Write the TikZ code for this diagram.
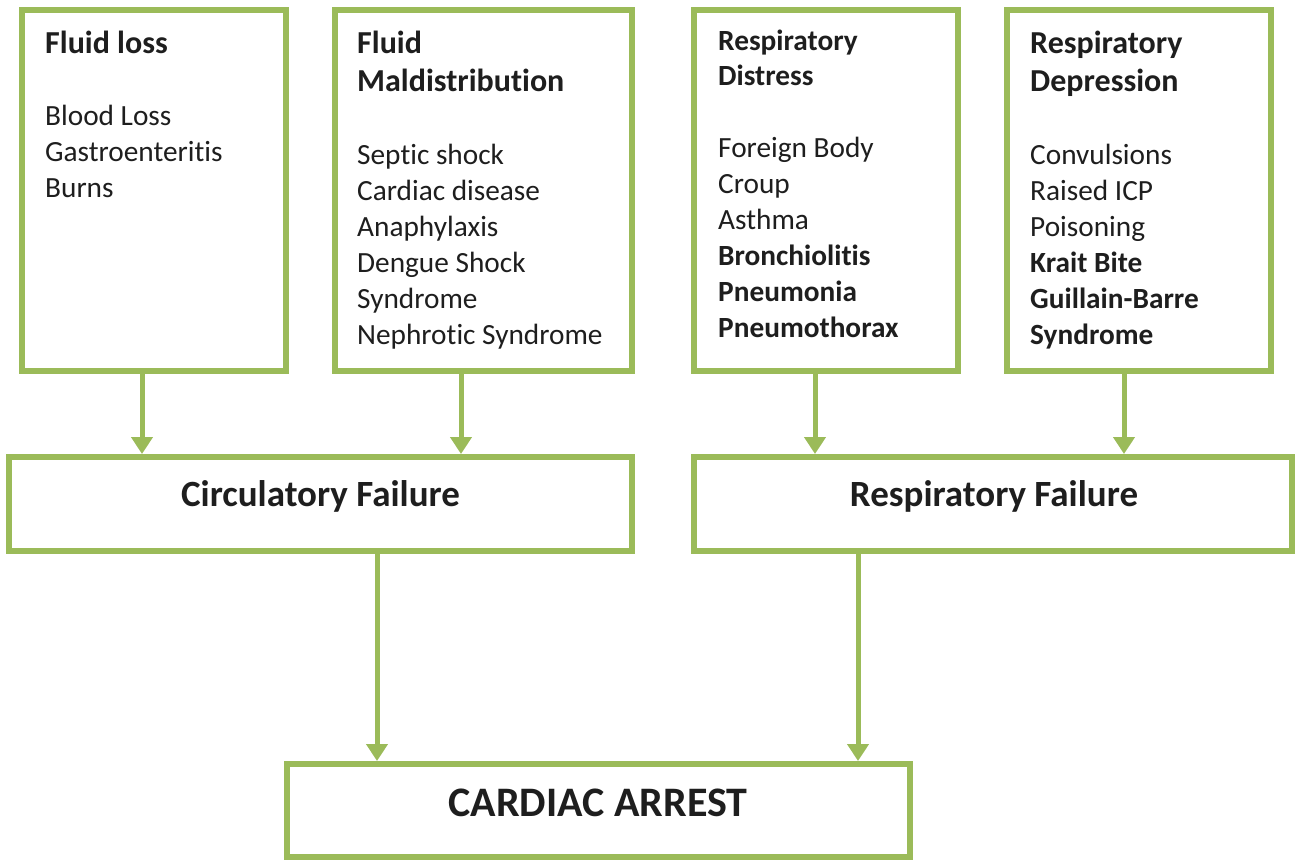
\documentclass[tikz,border=0pt]{standalone}
\usepackage{fontspec}
\setmainfont{Carlito}[RawFeature={-liga;-clig}]
\usetikzlibrary{arrows.meta}
\definecolor{leaf}{HTML}{9BBB59}
\definecolor{ink}{HTML}{1E1E1E}
\begin{document}
\begin{tikzpicture}[x=1pt,y=-1pt,
  box/.style={draw=leaf,line width=6pt,fill=white,inner sep=0pt},
  arr/.style={draw=leaf,line width=5pt,-{Triangle[width=21pt,length=17pt]}},
  item/.style={anchor=base west,inner sep=0pt,text=ink,font=\fontsize{29.3}{36}\selectfont},
  bitem/.style={item,font=\fontsize{29.3}{36}\selectfont\bfseries},
  head/.style={item,font=\fontsize{32}{38}\selectfont\bfseries},
  big/.style={anchor=base,inner sep=0pt,text=ink,font=\fontsize{37}{44}\selectfont\bfseries}]
\useasboundingbox (0,0) rectangle (1295,860);

% cause boxes
\node[box,minimum width=264pt,minimum height=361pt] (fl) at (154,190.5) {};
\node[box,minimum width=297pt,minimum height=361pt] (fm) at (483.5,190.5) {};
\node[box,minimum width=264pt,minimum height=361pt] (rd) at (826,190.5) {};
\node[box,minimum width=264pt,minimum height=361pt] (rp) at (1139,190.5) {};

% failure boxes
\node[box,minimum width=623pt,minimum height=94pt] (cf) at (320.5,504) {};
\node[box,minimum width=598pt,minimum height=94pt] (rf) at (993,504) {};

% final box
\node[box,minimum width=623pt,minimum height=93pt] (ca) at (598.5,810.5) {};

% box texts
\node[head] (fl-t) at (45,53.5) {Fluid loss};
\foreach \t [count=\i] in {Blood Loss,Gastroenteritis,Burns}
  \node[item] (fl-\i) at (45,125.5+36*\i-36) {\t};

\node[head] (fm-t1) at (357,53.5) {Fluid};
\node[head] (fm-t2) at (357,91.5) {Maldistribution};
\foreach \t [count=\i] in {Septic shock,Cardiac disease,Anaphylaxis,Dengue Shock,Syndrome,Nephrotic Syndrome}
  \node[item] (fm-\i) at (357,164.5+36*\i-36) {\t};

\node[bitem] (rd-t1) at (718,50) {Respiratory};
\node[bitem] (rd-t2) at (718,85) {Distress};
\foreach \t [count=\i] in {Foreign Body,Croup,Asthma}
  \node[item] (rd-\i) at (718,157.5+36*\i-36) {\t};
\foreach \t [count=\i] in {Bronchiolitis,Pneumonia,Pneumothorax}
  \node[bitem] (rd-b\i) at (718,265.5+36*\i-36) {\t};

\node[head] (rp-t1) at (1030,53.5) {Respiratory};
\node[head] (rp-t2) at (1030,91.5) {Depression};
\foreach \t [count=\i] in {Convulsions,Raised ICP,Poisoning}
  \node[item] (rp-\i) at (1030,164.5+36*\i-36) {\t};
\foreach \t [count=\i] in {Krait Bite,Guillain-Barre,Syndrome}
  \node[bitem] (rp-b\i) at (1030,272.5+36*\i-36) {\t};

\node[big] (cf-t) at (320.5,506) {Circulatory Failure};
\node[big] (rf-t) at (994,506) {Respiratory Failure};
\node[big,font=\fontsize{42}{50}\selectfont\bfseries] (ca-t) at (598,816.5) {CARDIAC ARREST};

% connectors
\coordinate (a1) at ([xshift=-12pt]fl.south);
\coordinate (a2) at ([xshift=-22.5pt]fm.south);
\coordinate (a3) at ([xshift=-11pt]rd.south);
\coordinate (a4) at ([xshift=-15pt]rp.south);
\coordinate (a5) at ([xshift=56.5pt]cf.south);
\coordinate (a6) at ([xshift=-135pt]rf.south);
\draw[arr] (a1) -- (a1 |- cf.north);
\draw[arr] (a2) -- (a2 |- cf.north);
\draw[arr] (a3) -- (a3 |- rf.north);
\draw[arr] (a4) -- (a4 |- rf.north);
\draw[arr] (a5) -- (a5 |- ca.north);
\draw[arr] (a6) -- (a6 |- ca.north);
\end{tikzpicture}
\end{document}
